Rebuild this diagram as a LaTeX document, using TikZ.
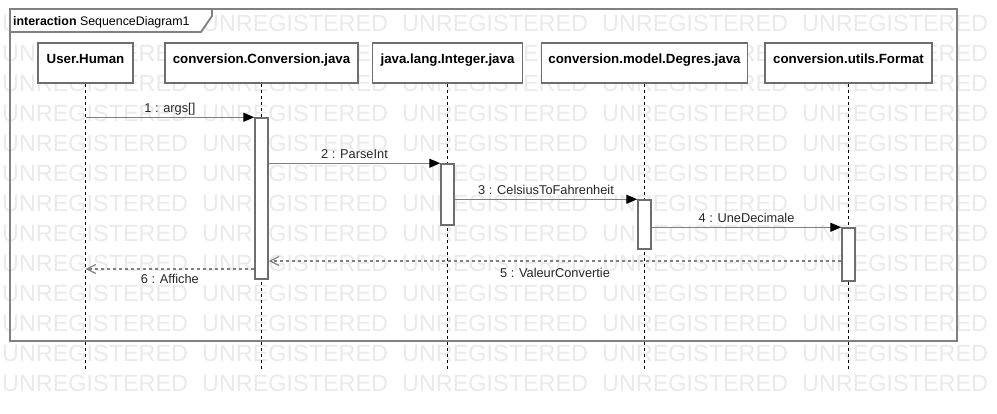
\documentclass[tikz,border=0pt]{standalone}
\usepackage{fontspec}
\setmainfont{Liberation Sans}
\usetikzlibrary{arrows.meta}
\definecolor{lg}{RGB}{128,128,128}
\definecolor{bx}{RGB}{110,110,110}
\definecolor{wmc}{RGB}{234,234,234}
\begin{document}
\begin{tikzpicture}[x=1pt,y=-1pt,
 wm/.style={inner sep=0, text=wmc, font=\fontsize{23.4}{24}\selectfont, anchor=base west},
 head/.style={draw=bx, line width=1.8pt, fill=white, inner sep=0, text height=20pt, text depth=20pt, anchor=base, font=\fontsize{13.3}{14}\selectfont\bfseries},
 act/.style={draw=bx, line width=1.5pt, fill=white, minimum width=13pt, inner sep=0},
 life/.style={black, line width=0.9pt, dash pattern=on 3pt off 3pt},
 call/.style={lg, line width=1.3pt, -{Triangle[length=11pt,width=9pt,black]}},
 ret/.style={lg, line width=1.2pt, dash pattern=on 3pt off 3pt, -{Straight Barb[length=9pt,width=9pt]}},
 lbl/.style={font=\fontsize{12.8}{14}\selectfont, text=black!85, inner sep=0, anchor=base},
]
\useasboundingbox (0,0) rectangle (997,413);
\fill[white] (0,0) rectangle (997,413);
% watermark
\foreach \r in {0,...,12}{
  \foreach \c in {0,...,4}{
    \node[wm] (w\r-\c) at ({2+200*\c},{31+30*\r}) {UNREGISTERED};
  }
}
% frame
\draw[lg, line width=2pt] (10,9) rectangle (957,341);
\draw[lg, line width=1.8pt, fill=white] (10,9) -- (212,9) -- (212,16) -- (201,32) -- (10,32) -- cycle;
\node[anchor=base west, inner sep=0, font=\fontsize{12.4}{14}\selectfont] (tabt) at (13,25.5) {\textbf{interaction} SequenceDiagram1};
% heads
\node[head, minimum width=95pt] (h1) at (85.5,63) {User.Human};
\node[head, minimum width=193pt] (h2) at (261.5,63) {conversion.Conversion.java};
\node[head, minimum width=150pt] (h3) at (447.5,63) {java.lang.Integer.java};
\node[head, minimum width=206pt] (h4) at (644.5,63) {conversion.model.Degres.java};
\node[head, minimum width=167pt] (h5) at (848.5,63) {conversion.utils.Format};
% lifelines
\coordinate (bot) at (0,369);
\foreach \h in {h1,h2,h3,h4,h5}{
  \draw[life] (\h.south) -- (\h.south |- bot);
}
% activations
\node[act, minimum height=161pt] (a2) at (261.5,198.5) {};
\node[act, minimum height=61pt] (a3) at (447.5,194.5) {};
\node[act, minimum height=49pt] (a4) at (644.5,224.5) {};
\node[act, minimum height=53pt] (a5) at (848.5,254.5) {};
% messages
\draw[call] (a2.north west -| h1.south) -- (a2.north west) node[lbl, midway, yshift=5pt] (l1) {1 : args[]};
\draw[call] (a3.north west -| a2.east) -- (a3.north west) node[lbl, midway, yshift=5pt] (l2) {2 : ParseInt};
\draw[call] (a4.north west -| a3.east) -- (a4.north west) node[lbl, midway, yshift=5pt] (l3) {3 : CelsiusToFahrenheit};
\draw[call] (a5.north west -| a4.east) -- (a5.north west) node[lbl, midway, yshift=5pt] (l4) {4 : UneDecimale};
\coordinate (r5) at (0,261);
\coordinate (r6) at (0,269);
\draw[ret] (r5 -| a5.west) -- (r5 -| a2.east) node[lbl, midway, yshift=-16pt] (l5) {5 : ValeurConvertie};
\draw[ret] (r6 -| a2.west) -- (r6 -| h1.south) node[lbl, midway, yshift=-14pt] (l6) {6 : Affiche};
\end{tikzpicture}
\end{document}
